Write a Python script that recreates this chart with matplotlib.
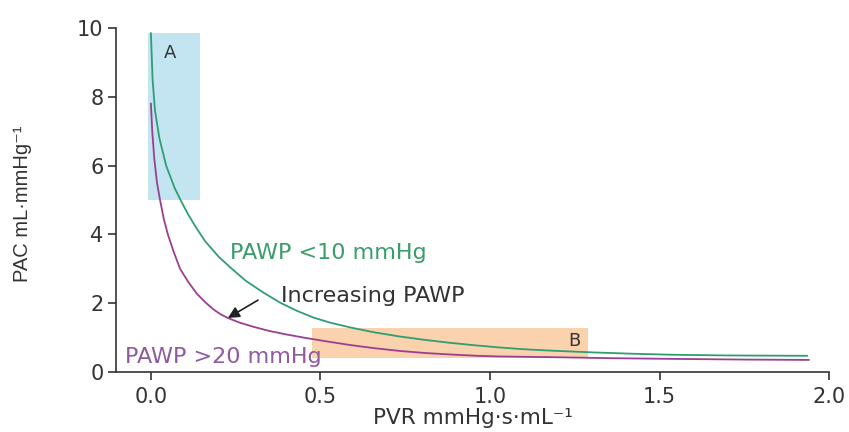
import matplotlib
matplotlib.use("Agg")
import matplotlib.pyplot as plt

# values
pvr_low = [0.000, 0.005, 0.012, 0.025, 0.045, 0.070, 0.090, 0.110, 0.130, 0.160,
           0.200, 0.233, 0.280, 0.330, 0.380, 0.430, 0.480, 0.530, 0.590, 0.660,
           0.735, 0.810, 0.880, 0.950, 1.030, 1.100, 1.180, 1.300, 1.420, 1.540,
           1.700, 1.935]
pac_low = [9.85, 8.50, 7.60, 6.80, 6.00, 5.35, 4.95, 4.58, 4.25, 3.80,
           3.35, 3.05, 2.65, 2.32, 2.02, 1.78, 1.58, 1.43, 1.29, 1.15,
           1.03, 0.93, 0.85, 0.78, 0.71, 0.66, 0.62, 0.57, 0.53, 0.50,
           0.48, 0.47]

pvr_high = [0.000, 0.004, 0.010, 0.018, 0.027, 0.038, 0.050, 0.067, 0.086, 0.110,
            0.136, 0.160, 0.183, 0.205, 0.227, 0.260, 0.300, 0.350, 0.400, 0.450,
            0.530, 0.590, 0.660, 0.735, 0.810, 0.880, 0.960, 1.030, 1.180, 1.360,
            1.540, 1.750, 1.940]
pac_high = [7.80, 7.00, 6.20, 5.50, 5.00, 4.45, 4.00, 3.50, 3.00, 2.62,
            2.27, 2.03, 1.83, 1.68, 1.57, 1.44, 1.32, 1.19, 1.09, 1.00,
            0.87, 0.78, 0.69, 0.61, 0.55, 0.51, 0.47, 0.45, 0.43, 0.40,
            0.38, 0.36, 0.35]

region_a = (-0.009, 0.145, 5.0, 9.85)   # x0, x1, y0, y1
region_b = (0.475, 1.289, 0.41, 1.28)

green = "#2f9e72"
purple = "#9b3f92"

fig, ax = plt.subplots(figsize=(8.49, 4.32), dpi=100)
fig.subplots_adjust(left=0.1366, right=0.9765, top=0.935, bottom=0.139)

ax.fill_between([region_a[0], region_a[1]], region_a[2], region_a[3],
                color="#c3e4f1", lw=0, zorder=0)
ax.fill_between([region_b[0], region_b[1]], region_b[2], region_b[3],
                color="#fad2ae", lw=0, zorder=0)

ax.plot(pvr_low, pac_low, color=green, lw=1.3, zorder=3)
ax.plot(pvr_high, pac_high, color=purple, lw=1.3, zorder=3)

ax.annotate("", xy=(0.227, 1.57), xytext=(0.316, 2.09),
            arrowprops=dict(arrowstyle="-|>", color="#222222", lw=1.2,
                            mutation_scale=17, shrinkA=0, shrinkB=0))

ax.text(0.056, 9.27, "A", fontsize=13, color="#333333", ha="center", va="center")
ax.text(1.248, 0.90, "B", fontsize=13, color="#333333", ha="center", va="center")
ax.text(0.233, 3.46, "PAWP <10 mmHg", fontsize=16, color="#3a9d6c", va="center")
ax.text(0.383, 2.21, "Increasing PAWP", fontsize=16, color="#333333", va="center")
ax.text(-0.077, 0.44, "PAWP >20 mmHg", fontsize=16, color="#8f5a9f", va="center")

ax.set_xlim(-0.103, 2.0)
ax.set_ylim(0, 10)
ax.set_xticks([0.0, 0.5, 1.0, 1.5, 2.0])
ax.set_xticklabels(["0.0", "0.5", "1.0", "1.5", "2.0"])
ax.set_yticks([0, 2, 4, 6, 8, 10])

for side in ["top", "right"]:
    ax.spines[side].set_visible(False)
for side in ["left", "bottom"]:
    ax.spines[side].set_color("#333333")
    ax.spines[side].set_linewidth(1.2)
ax.tick_params(length=6, width=1.2, color="#333333", labelcolor="#333333",
               labelsize=15)
ax.tick_params(axis="x", pad=5)
ax.tick_params(axis="y", pad=3)

ax.set_xlabel("PVR mmHg·s·mL⁻¹", fontsize=15.5, color="#333333")
ax.xaxis.set_label_coords(0.5, -0.106)
ax.set_ylabel("PAC mL·mmHg⁻¹", fontsize=14.5, color="#333333",
              family=["Liberation Sans", "DejaVu Sans"])
ax.yaxis.set_label_coords(-0.118, 0.49)

fig.savefig("out.png", dpi=100)
